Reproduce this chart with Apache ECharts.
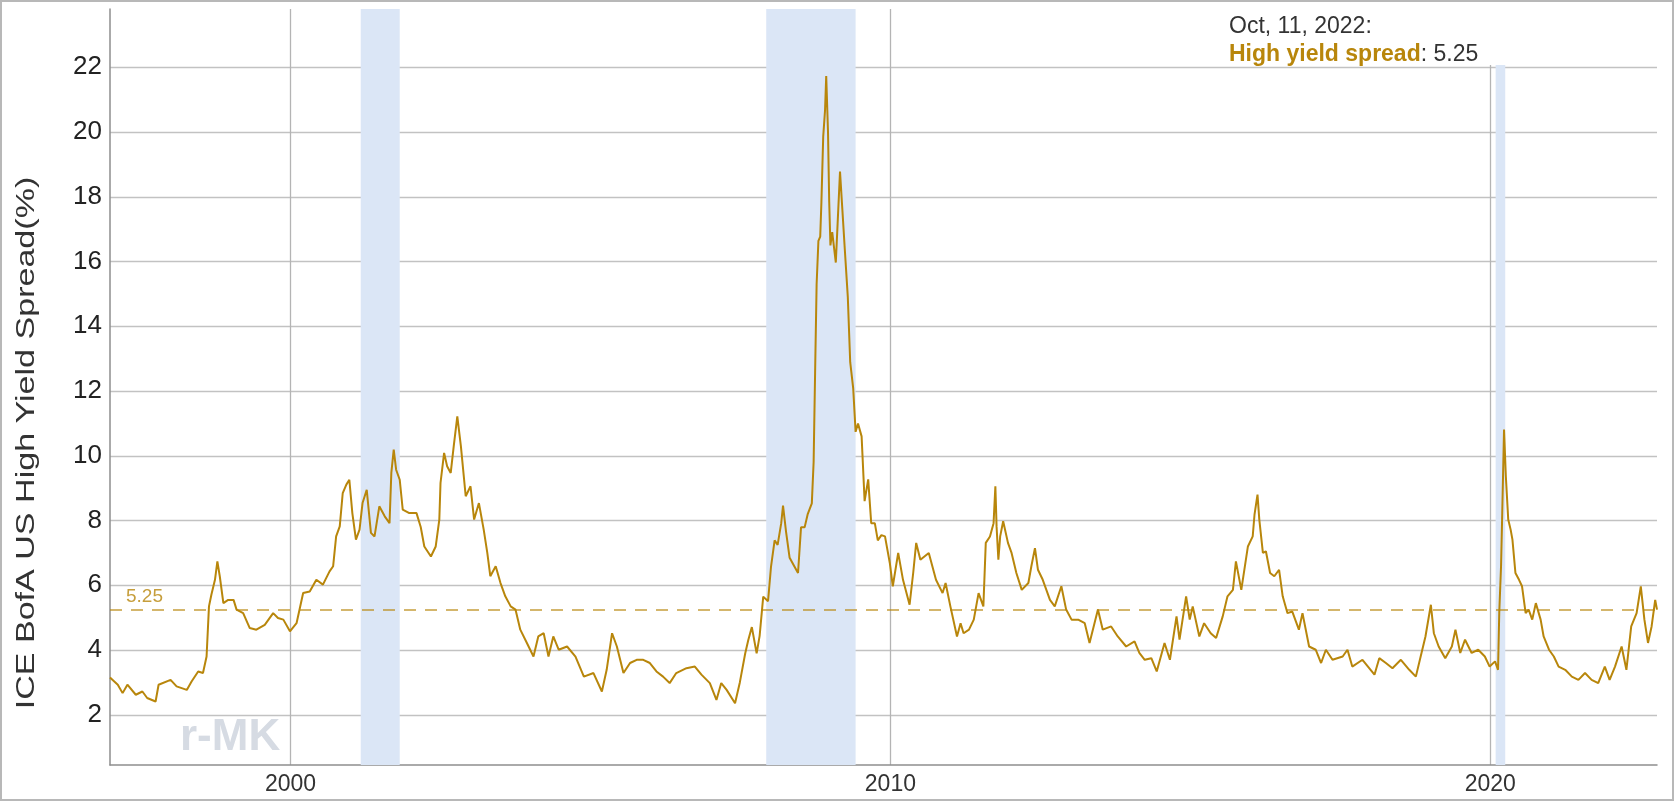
<!DOCTYPE html>
<html>
<head>
<meta charset="utf-8">
<script src="https://cdn.jsdelivr.net/npm/echarts@6/dist/echarts.min.js"></script>
<style>
html,body{margin:0;padding:0;background:#fff;}
#wrap{position:relative;width:1674px;height:801px;}
#chart{position:absolute;left:0;top:0;width:1674px;height:801px;}
#frame{position:absolute;left:0;top:0;width:1674px;height:801px;box-sizing:border-box;border:2px solid #b8b8b8;pointer-events:none;}
</style>
</head>
<body>
<div id="wrap"><div id="chart"></div><div id="frame"></div></div>
<script>
// Decimal years (date of observation) and ICE BofA US High Yield spread (%)
const years = [
1996.99,1997.12,1997.2,1997.28,1997.42,1997.53,1997.61,1997.75,1997.8,1998.0,1998.1,1998.27,1998.35,1998.46,1998.54,1998.6,1998.64,1998.68,1998.74,1998.78,1998.82,1998.88,1998.96,1999.05,1999.1,1999.21,1999.32,1999.43,1999.57,1999.71,1999.79,1999.88,1999.99,
2000.1,2000.21,2000.32,2000.43,2000.54,2000.65,2000.71,2000.76,2000.82,2000.87,2000.93,2000.98,2001.03,2001.09,2001.15,2001.2,2001.27,2001.34,2001.4,2001.48,2001.57,2001.65,2001.68,2001.72,2001.76,2001.82,2001.87,2001.98,2002.1,
2002.17,2002.23,2002.34,2002.42,2002.48,2002.5,2002.56,2002.61,2002.67,2002.72,2002.78,2002.84,2002.92,2003.0,2003.06,2003.14,2003.22,2003.28,2003.33,2003.42,2003.5,2003.58,2003.67,2003.75,2003.83,2003.94,
2004.05,2004.13,2004.22,2004.3,2004.38,2004.47,2004.61,2004.75,2004.89,2005.05,2005.19,2005.27,2005.36,2005.44,2005.55,2005.66,2005.77,2005.88,2005.99,2006.1,2006.21,2006.32,2006.43,2006.6,2006.74,2006.85,2006.99,2007.1,2007.18,2007.27,2007.41,2007.49,
2007.58,2007.63,2007.69,2007.77,2007.82,2007.88,2007.96,2008.01,2008.07,2008.12,2008.18,2008.21,2008.26,2008.32,2008.4,2008.46,2008.51,2008.57,2008.62,2008.69,2008.72,2008.75,2008.77,2008.8,2008.83,2008.85,2008.88,2008.91,2008.93,2008.96,2008.98,
2009.0,2009.03,2009.09,2009.12,2009.16,2009.2,2009.24,2009.29,2009.33,2009.38,2009.42,2009.46,2009.52,2009.57,2009.63,2009.68,2009.74,2009.79,2009.85,2009.91,2009.99,
2010.04,2010.13,2010.21,2010.32,2010.38,2010.43,2010.5,2010.64,2010.76,2010.87,2010.92,2011.0,2011.11,2011.17,2011.22,2011.31,2011.39,2011.47,2011.55,2011.59,2011.66,2011.72,2011.75,2011.77,2011.8,2011.83,2011.88,2011.96,
2012.02,2012.1,2012.19,2012.3,2012.35,2012.41,2012.46,2012.54,2012.66,2012.74,2012.85,2012.93,2013.02,2013.13,2013.24,2013.32,2013.46,2013.54,2013.68,2013.79,2013.93,
2014.07,2014.15,2014.24,2014.35,2014.44,2014.57,2014.66,2014.77,2014.82,2014.93,2014.99,2015.04,2015.15,2015.23,2015.34,2015.43,2015.54,2015.62,2015.71,2015.76,2015.85,2015.96,
2016.04,2016.07,2016.12,2016.15,2016.21,2016.26,2016.33,2016.4,2016.48,2016.54,2016.62,2016.7,2016.81,2016.87,2016.98,2017.09,2017.18,2017.26,2017.37,2017.54,2017.62,2017.7,2017.87,
2018.07,2018.15,2018.26,2018.37,2018.51,2018.65,2018.76,2018.84,2018.92,2019.01,2019.06,2019.14,2019.25,2019.36,2019.42,2019.5,2019.58,2019.69,2019.8,2019.91,2019.99,
2020.08,2020.13,2020.15,2020.18,2020.2,2020.23,2020.26,2020.3,2020.34,2020.37,2020.42,2020.48,2020.53,2020.59,2020.64,2020.7,2020.76,2020.84,2020.89,2020.98,
2021.06,2021.14,2021.25,2021.36,2021.47,2021.58,2021.69,2021.8,2021.91,2021.99,2022.08,2022.19,2022.27,2022.35,2022.44,2022.51,2022.57,2022.63,2022.69,2022.75,2022.78
];
const spread = [
3.15,2.93,2.67,2.93,2.62,2.72,2.52,2.41,2.93,3.08,2.88,2.77,3.03,3.34,3.29,3.8,5.35,5.71,6.17,6.74,6.28,5.45,5.55,5.55,5.25,5.14,4.68,4.63,4.78,5.14,4.99,4.94,4.58,
4.83,5.76,5.81,6.17,6.02,6.43,6.59,7.51,7.82,8.85,9.11,9.26,8.23,7.41,7.72,8.54,8.95,7.62,7.51,8.44,8.13,7.92,9.47,10.19,9.57,9.26,8.34,8.23,8.23,
7.8,7.2,6.89,7.2,8.03,9.16,10.09,9.68,9.47,10.29,11.22,10.29,8.75,9.06,8.03,8.54,7.72,7.0,6.28,6.59,6.07,5.66,5.35,5.25,4.63,4.22,
3.8,4.42,4.52,3.8,4.42,4.01,4.11,3.8,3.18,3.29,2.72,3.39,4.52,4.11,3.29,3.6,3.7,3.7,3.6,3.34,3.18,2.98,3.29,3.44,3.49,3.24,2.98,2.46,2.98,2.77,2.36,3.0,
3.9,4.3,4.71,3.9,4.44,5.65,5.51,6.58,7.39,7.25,7.92,8.46,7.66,6.85,6.58,6.38,7.79,7.79,8.19,8.53,9.8,13.15,15.3,16.64,16.77,17.84,19.86,20.66,21.73,19.99,17.84,
16.5,16.91,15.97,17.17,18.78,17.58,16.37,14.9,12.89,12.08,10.74,11.0,10.6,8.6,9.27,7.92,7.92,7.39,7.55,7.51,6.69,
5.97,7.0,6.17,5.4,6.38,7.31,6.79,7.0,6.17,5.76,6.07,5.35,4.42,4.83,4.52,4.63,4.94,5.76,5.35,7.31,7.51,7.92,9.06,7.82,6.79,7.51,7.98,7.31,
7.0,6.38,5.86,6.07,6.59,7.15,6.48,6.17,5.55,5.35,5.97,5.25,4.94,4.94,4.83,4.22,5.25,4.63,4.73,4.42,4.11,
4.27,3.91,3.7,3.75,3.34,4.22,3.7,5.04,4.32,5.66,4.94,5.35,4.42,4.83,4.52,4.37,5.04,5.66,5.86,6.74,5.86,7.2,
7.51,8.18,8.8,8.03,7.0,7.05,6.38,6.28,6.48,5.66,5.14,5.19,4.63,5.14,4.11,4.01,3.6,4.01,3.7,3.8,4.01,3.49,3.7,
3.24,3.75,3.6,3.44,3.7,3.39,3.18,3.8,4.42,5.4,4.52,4.11,3.75,4.11,4.63,3.91,4.32,3.91,4.01,3.8,3.49,
3.65,3.39,5.14,6.59,8.23,10.81,9.37,8.03,7.72,7.41,6.38,6.17,5.97,5.14,5.25,4.94,5.45,4.94,4.42,4.01,
3.8,3.49,3.39,3.18,3.08,3.29,3.08,2.98,3.49,3.08,3.49,4.11,3.39,4.73,5.14,5.97,4.94,4.22,4.73,5.55,5.25
];
// NBER recessions (decimal years)
const recessionStart = [2001.17, 2007.93, 2020.09];
const recessionEnd   = [2001.82, 2009.42, 2020.25];
// Latest observation
const lastDateLabel = 'Oct, 11, 2022:';
const seriesName = 'High yield spread';
const xTickYears = [2000, 2010, 2020];

const GOLD = '#b8860b';
const FONT = '"Liberation Sans", Arial, Helvetica, sans-serif';
const lastValue = spread[spread.length - 1];

const chart = echarts.init(document.getElementById('chart'), null, {renderer: 'canvas'});
const option = {
  animation: false,
  backgroundColor: '#ffffff',
  grid: {left: 110, right: 17, top: 9, bottom: 36, containLabel: false},
  xAxis: {
    type: 'value',
    min: 1996.99,
    max: 2022.78,
    splitNumber: 3,
    axisLine: {show: true, lineStyle: {color: '#8e8e8e', width: 1.5}},
    axisTick: {show: false},
    axisLabel: {
      showMinLabel: false, showMaxLabel: false,
      color: '#333', fontSize: 23, fontFamily: FONT, margin: 8,
      formatter: v => (xTickYears.indexOf(Math.round(v)) >= 0 ? String(Math.round(v)) : '')
    },
    splitLine: {show: true, showMinLine: false, showMaxLine: false, lineStyle: {color: '#b4b4b4', width: 1.3}}
  },
  yAxis: {
    type: 'value',
    min: 0.45,
    max: 23.8,
    splitNumber: 12,
    axisLine: {show: true, lineStyle: {color: '#8e8e8e', width: 1.5}},
    axisTick: {show: false},
    axisLabel: {showMinLabel: false, showMaxLabel: false, color: '#222', fontSize: 26, fontFamily: FONT, margin: 8},
    splitLine: {show: true, showMinLine: false, showMaxLine: false, lineStyle: {color: '#c2c2c2', width: 1.4}}
  },
  series: [{
    name: seriesName,
    type: 'line',
    data: years.map((y, i) => [y, spread[i]]),
    showSymbol: false,
    symbol: 'none',
    lineStyle: {color: GOLD, width: 2},
    z: 3,
    markLine: {
      silent: true,
      symbol: 'none',
      data: [{yAxis: lastValue}],
      lineStyle: {color: GOLD, type: [12, 9], width: 1.6, opacity: 0.8},
      label: {show: true, position: 'insideStartTop', formatter: String(lastValue), color: GOLD, fontSize: 19, fontFamily: FONT, distance: [16, 3]}
    },
    markArea: {
      silent: true,
      itemStyle: {color: '#dbe6f6'},
      data: recessionStart.map((s, i) => [{xAxis: s}, {xAxis: recessionEnd[i]}])
    }
  }],
  graphic: [
    {
      type: 'text', x: 27, y: 443, rotation: Math.PI / 2, scaleX: 1.31, scaleY: 1,
      style: {text: 'ICE BofA US High Yield Spread(%)', fill: '#333', font: '26px ' + FONT, align: 'center', verticalAlign: 'middle'}
    },
    {
      type: 'text', x: 180, y: 716,
      style: {text: 'r-MK', fill: '#d6dbe3', font: 'bold 44px ' + FONT}
    },
    {
      type: 'rect', shape: {x: 1222, y: 2, width: 440, height: 63}, style: {fill: '#ffffff'}, z: 50
    },
    {
      type: 'text', x: 1229, y: 15, z: 51,
      style: {text: lastDateLabel, fill: '#333', font: '23px ' + FONT}
    },
    {
      type: 'text', x: 1229, y: 43, z: 51,
      style: {
        text: '{b|' + seriesName + '}{v|: ' + lastValue + '}',
        rich: {
          b: {fill: GOLD, font: 'bold 23px ' + FONT},
          v: {fill: '#333', font: '23px ' + FONT}
        }
      }
    }
  ]
};
chart.setOption(option);
</script>
</body>
</html>
